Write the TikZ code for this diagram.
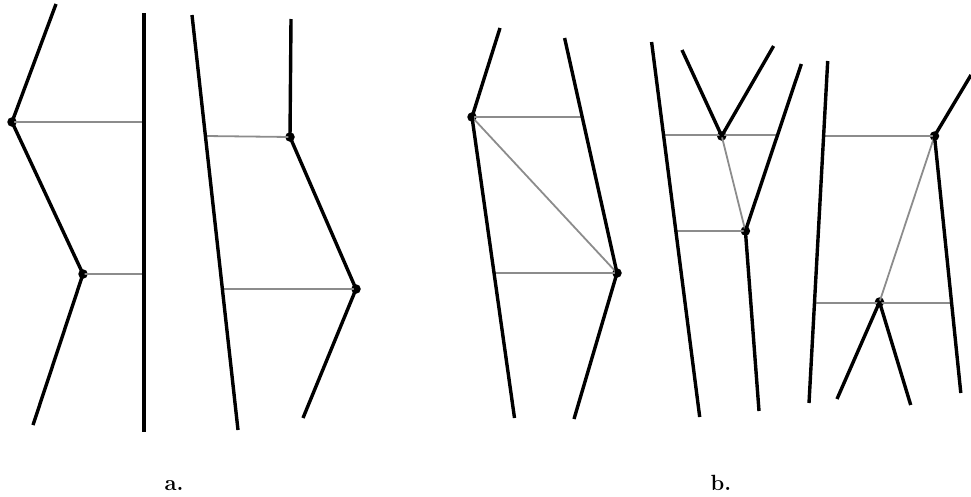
\documentclass[tikz,border=0pt]{standalone}
\begin{document}
\begin{tikzpicture}[x=1pt,y=-1pt,
  blk/.style={line width=3.4pt,black,line join=round},
  gry/.style={line width=1.8pt,gray!90},
  dotn/.style={circle,fill=black,inner sep=0pt,minimum size=9.5pt},
  lab/.style={font=\bfseries\fontsize{22}{22}\selectfont,anchor=base,inner sep=0pt}]
\useasboundingbox (0,0) rectangle (971,496);
% ---- a, left ----
\coordinate (a1t) at (56,4);
\node[dotn] (a1p) at (12,122) {};
\node[dotn] (a1q) at (83,274) {};
\coordinate (a1b) at (33,425);
\coordinate (a1vt) at (144,13);
\coordinate (a1vb) at (144,432);
\coordinate (a1g1) at (144,122);
\coordinate (a1g2) at (144,274);
\draw[gry] (a1p.center) -- (a1g1);
\draw[gry] (a1q.center) -- (a1g2);
\draw[blk] (a1t) -- (a1p.center) -- (a1q.center) -- (a1b);
\draw[blk] (a1vt) -- (a1vb);
% ---- a, right ----
\coordinate (a2lt) at (192,15);
\coordinate (a2lb) at (238,430);
\coordinate (a2g1) at (205.5,136);
\coordinate (a2g2) at (222.4,289);
\coordinate (a2t) at (291,19);
\node[dotn] (a2p) at (290,137) {};
\node[dotn] (a2q) at (356,289) {};
\coordinate (a2b) at (303,418);
\draw[gry] (a2g1) -- (a2p.center);
\draw[gry] (a2g2) -- (a2q.center);
\draw[blk] (a2lt) -- (a2lb);
\draw[blk] (a2t) -- (a2p.center) -- (a2q.center) -- (a2b);
% ---- b, first ----
\coordinate (b1t) at (500,28);
\node[dotn] (b1p) at (472,117) {};
\coordinate (b1b) at (514.5,418);
\coordinate (b1rt) at (564.6,38);
\node[dotn] (b1q) at (617,273) {};
\coordinate (b1rb) at (574,419);
\coordinate (b1g1) at (582,117);
\coordinate (b1g2) at (494,273);
\draw[gry] (b1p.center) -- (b1g1);
\draw[gry] (b1g2) -- (b1q.center);
\draw[gry] (b1p.center) -- (b1q.center);
\draw[blk] (b1t) -- (b1p.center) -- (b1b);
\draw[blk] (b1rt) -- (b1q.center) -- (b1rb);
% ---- b, second ----
\coordinate (b2lt) at (651.6,42);
\coordinate (b2lb) at (699.7,417);
\coordinate (b2ya) at (682,50);
\coordinate (b2yb) at (773.6,46);
\node[dotn] (b2p) at (721.7,136) {};
\coordinate (b2rt) at (801.3,64);
\node[dotn] (b2q) at (745.4,231) {};
\coordinate (b2rb) at (759,411);
\coordinate (b2g1l) at (663.5,135);
\coordinate (b2g1r) at (777,135);
\coordinate (b2g2l) at (675.4,231);
\draw[gry] (b2g1l) -- (b2g1r);
\draw[gry] (b2g2l) -- (b2q.center);
\draw[gry] (b2p.center) -- (b2q.center);
\draw[blk] (b2lt) -- (b2lb);
\draw[blk] (b2ya) -- (b2p.center) -- (b2yb);
\draw[blk] (b2rt) -- (b2q.center) -- (b2rb);
% ---- b, third ----
\coordinate (b3lt) at (827.7,61);
\coordinate (b3lb) at (809,403);
\coordinate (b3rt) at (971,75);
\node[dotn] (b3p) at (934.5,136) {};
\coordinate (b3rb) at (960.8,393);
\node[dotn] (b3q) at (879.5,302) {};
\coordinate (b3ql) at (837,399);
\coordinate (b3qr) at (910.7,405);
\coordinate (b3g1) at (823.7,136);
\coordinate (b3g2l) at (814,303);
\coordinate (b3g2r) at (951.3,303);
\draw[gry] (b3g1) -- (b3p.center);
\draw[gry] (b3g2l) -- (b3g2r);
\draw[gry] (b3p.center) -- (b3q.center);
\draw[blk] (b3lt) -- (b3lb);
\draw[blk] (b3rt) -- (b3p.center) -- (b3rb);
\draw[blk] (b3ql) -- (b3q.center) -- (b3qr);
% ---- labels ----
\node[lab] (la) at (174,490) {a.};
\node[lab] (lb) at (721,490) {b.};
\end{tikzpicture}
\end{document}
